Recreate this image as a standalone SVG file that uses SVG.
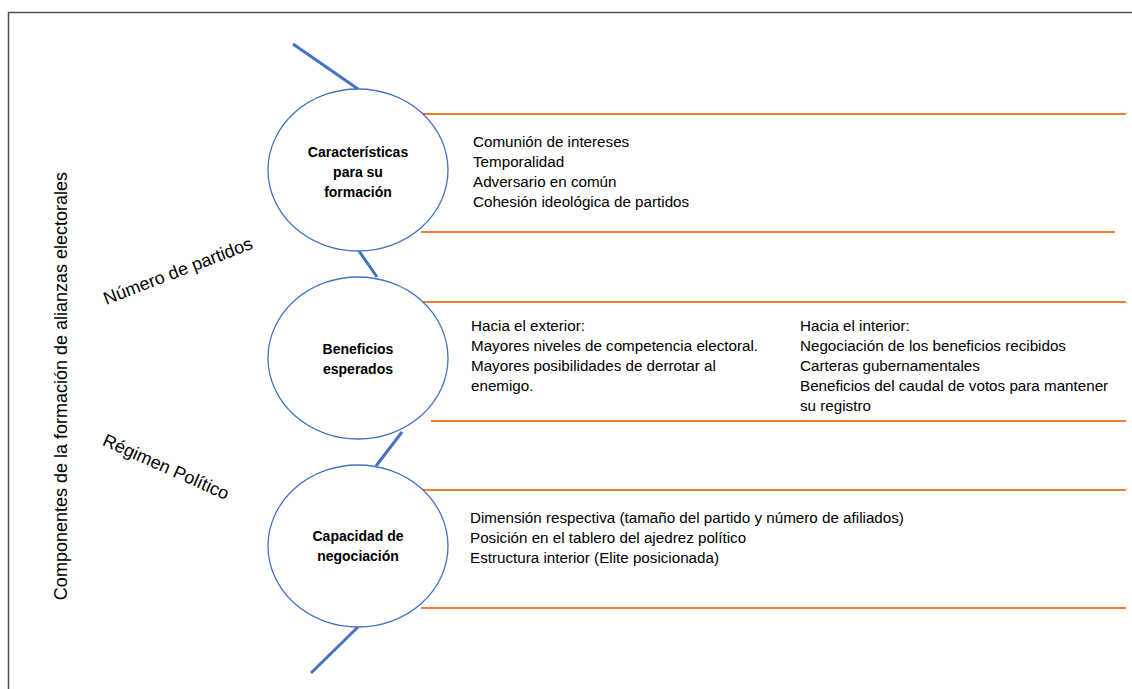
<svg xmlns="http://www.w3.org/2000/svg" width="1132" height="689" viewBox="0 0 1132 689">
<style>
.frame{fill:none;stroke:#44546A;stroke-width:1.5}
.node ellipse{fill:#fff;stroke:#4472C4;stroke-width:1.3}
.lbl{font-family:"Liberation Sans",Arial,sans-serif;font-size:14px;font-weight:bold;fill:#000;text-anchor:middle}
.txt{font-family:"Liberation Sans",Arial,sans-serif;font-size:15.2px;fill:#000}
.side{font-family:"Liberation Sans",Arial,sans-serif;font-size:18px;fill:#000;text-anchor:middle}
.blue{stroke:#4472C4;stroke-width:3;fill:none}
.orange{stroke:#ED7D31;stroke-width:2;fill:none}
</style>
<rect width="1132" height="689" fill="#fff"/>
<path class="frame" d="M8.5,689 V12.5 H1132"/>
<g id="connectors">
<line class="blue" x1="293" y1="44" x2="358" y2="89"/>
<line class="blue" x1="359" y1="251" x2="377" y2="277"/>
<line class="blue" x1="402" y1="432" x2="376" y2="466"/>
<line class="blue" x1="358" y1="627" x2="311" y2="673"/>
<line class="orange" x1="419" y1="114" x2="1126" y2="114"/>
<line class="orange" x1="421" y1="232" x2="1115" y2="232"/>
<line class="orange" x1="421" y1="302" x2="1126" y2="302"/>
<line class="orange" x1="431" y1="421" x2="1126" y2="421"/>
<line class="orange" x1="419" y1="490" x2="1126" y2="490"/>
<line class="orange" x1="421" y1="608" x2="1126" y2="608"/>
</g>
<g id="title">
<text class="side" transform="translate(67,386) rotate(-90)" x="0" y="0">Componentes de la formación de alianzas electorales</text>
</g>
<g id="label-partidos">
<text class="side" transform="translate(178,271) rotate(-21)" x="0" y="6">Número de partidos</text>
</g>
<g id="label-regimen">
<text class="side" transform="translate(166,467) rotate(24)" x="0" y="6">Régimen Político</text>
</g>
<g id="node-caracteristicas" class="node">
<ellipse cx="358" cy="170" rx="90" ry="81"/>
<text class="lbl" x="358" y="157">Características</text>
<text class="lbl" x="358" y="177">para su</text>
<text class="lbl" x="358" y="197">formación</text>
</g>
<g id="node-beneficios" class="node">
<ellipse cx="358" cy="358" rx="90" ry="81"/>
<text class="lbl" x="358" y="354">Beneficios</text>
<text class="lbl" x="358" y="374">esperados</text>
</g>
<g id="node-capacidad" class="node">
<ellipse cx="358" cy="546" rx="90" ry="81"/>
<text class="lbl" x="358" y="541">Capacidad de</text>
<text class="lbl" x="358" y="561">negociación</text>
</g>
<g id="text-caracteristicas">
<text class="txt" x="473" y="147">Comunión de intereses</text>
<text class="txt" x="473" y="167">Temporalidad</text>
<text class="txt" x="473" y="187">Adversario en común</text>
<text class="txt" x="473" y="207">Cohesión ideológica de partidos</text>
</g>
<g id="text-beneficios">
<text class="txt" x="471" y="331">Hacia el exterior:</text>
<text class="txt" x="471" y="351">Mayores niveles de competencia electoral.</text>
<text class="txt" x="471" y="371">Mayores posibilidades de derrotar al</text>
<text class="txt" x="471" y="391">enemigo.</text>
<text class="txt" x="800" y="331">Hacia el interior:</text>
<text class="txt" x="800" y="351">Negociación de los beneficios recibidos</text>
<text class="txt" x="800" y="371">Carteras gubernamentales</text>
<text class="txt" x="800" y="391">Beneficios del caudal de votos para mantener</text>
<text class="txt" x="800" y="411">su registro</text>
</g>
<g id="text-capacidad">
<text class="txt" x="470" y="523">Dimensión respectiva (tamaño del partido y número de afiliados)</text>
<text class="txt" x="470" y="543">Posición en el tablero del ajedrez político</text>
<text class="txt" x="470" y="563">Estructura interior (Elite posicionada)</text>
</g>
</svg>
